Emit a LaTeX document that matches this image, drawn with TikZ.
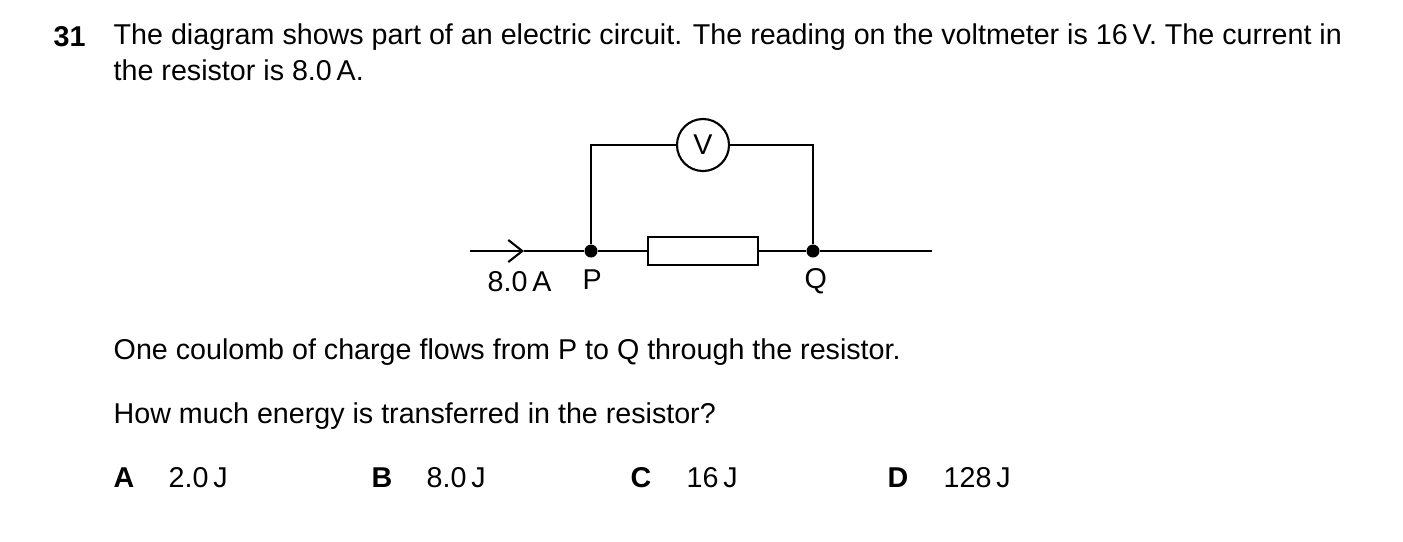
\documentclass[tikz,border=0pt]{standalone}
\usepackage{fontspec}
\setmainfont{Liberation Sans}
\usetikzlibrary{arrows.meta}
\tikzset{
  txt/.style={anchor=west,inner sep=0pt,font=\fontsize{8.15}{9.6}\selectfont},
  bold/.style={txt,font=\fontsize{8.15}{9.6}\selectfont\bfseries},
  dot/.style={circle,fill,inner sep=0pt,minimum size=1.3mm},
  wire/.style={line width=0.6pt}
}
\begin{document}
\begin{tikzpicture}[x=0.01cm,y=-0.01cm]
      \useasboundingbox (0,0) rectangle (1403,541);
      % question text
      \node[bold] (num) at (53,37) {31};
      \node[txt] (l1) at (113,37) {The diagram shows part of an electric circuit. The reading on the voltmeter is 16\,V. The current in};
      \node[txt] (l2) at (113,70) {the resistor is 8.0\,A.};

      % circuit
      \coordinate (in) at (470,251);
      \coordinate (mid) at (524,251);
      \node[dot] (P) at (591,251) {};
      \node[dot] (Q) at (813,251) {};
      \coordinate (out) at (932,251);
      \coordinate (tl) at (591,145);
      \coordinate (tr) at (813,145);
      \node[draw,wire,minimum width=1.1cm,minimum height=0.28cm,inner sep=0pt] (R) at (703,251) {};
      \node[draw,wire,circle,minimum size=0.52cm,inner sep=0pt,fill=white,font=\fontsize{8.15}{9.6}\selectfont] (V) at (703,145) {V};

      \draw[wire,-{Straight Barb[length=1.4mm,width=2.2mm]}] (in) -- (mid);
      \draw[wire] (mid) -- (P) -- (R.west);
      \draw[wire] (R.east) -- (Q) -- (out);
      \draw[wire] (P) -- (tl) -- (V.west);
      \draw[wire] (V.east) -- (tr) -- (Q);

      \node[txt] (cur) at (487,282) {8.0\,A};
      \node[txt] (lp) at (582,280) {P};
      \node[txt] (lq) at (804,281) {Q};

      % rest of question
      \node[txt] (l3) at (113,352) {One coulomb of charge flows from P to Q through the resistor.};
      \node[txt] (l4) at (113,416) {How much energy is transferred in the resistor?};
      \node[bold] (oA) at (113,478) {A};
      \node[txt] (vA) at (168,478) {2.0\,J};
      \node[bold] (oB) at (371,478) {B};
      \node[txt] (vB) at (426,478) {8.0\,J};
      \node[bold] (oC) at (630,478) {C};
      \node[txt] (vC) at (686,478) {16\,J};
      \node[bold] (oD) at (887,478) {D};
      \node[txt] (vD) at (943,478) {128\,J};
\end{tikzpicture}
\end{document}
